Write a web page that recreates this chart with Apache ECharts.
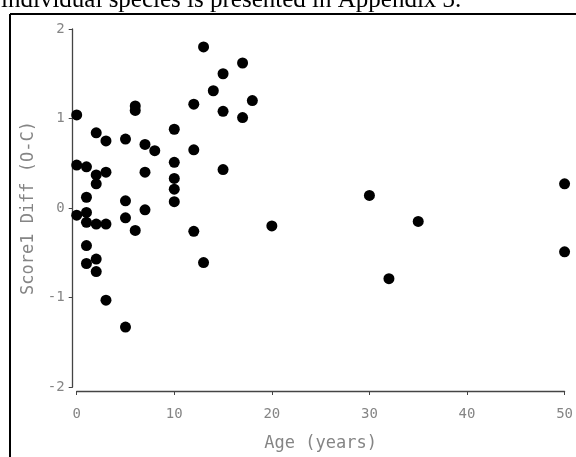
<!DOCTYPE html>
<html>
<head>
<meta charset="utf-8">
<script src="https://cdn.jsdelivr.net/npm/echarts@6/dist/echarts.min.js"></script>
<style>html,body{margin:0;padding:0;background:#fff}#c{width:576px;height:457px}</style>
</head>
<body>
<div id="c"></div>
<script>
var ages = [0,0,0, 1,1,1,1,1,1, 2,2,2,2,2,2, 3,3,3,3, 5,5,5,5, 6,6,6, 7,7,7, 8, 10,10,10,10,10, 12,12,12, 13,13, 14, 15,15,15, 17,17, 18, 20, 30, 32, 35, 50,50];
var scores = [1.04,0.48,-0.08, 0.46,0.12,-0.05,-0.16,-0.42,-0.62, 0.84,0.37,0.27,-0.18,-0.57,-0.71, 0.75,0.40,-0.18,-1.03, 0.77,0.08,-0.11,-1.33, 1.14,1.09,-0.25, 0.71,0.40,-0.02, 0.64, 0.88,0.51,0.33,0.21,0.07, 1.16,0.65,-0.26, 1.80,-0.61, 1.31, 1.50,1.08,0.43, 1.62,1.01, 1.20, -0.20, 0.14, -0.79, -0.15, 0.27,-0.49];
var xTitle = 'Age (years)';
var yTitle = 'Score1 Diff (O-C)';
var pageText = 'individual species is presented in Appendix 3.';

var points = ages.map(function (a, i) { return [a, scores[i]]; });
var mono = '"DejaVu Sans Mono", "Liberation Mono", monospace';
var labelGray = '#858585';

var chart = echarts.init(document.getElementById('c'), null, {renderer: 'canvas'});
chart.setOption({
  animation: false,
  backgroundColor: '#fff',
  grid: {left: 76.7, right: 5.3, top: 29, bottom: 68, containLabel: false},
  xAxis: {
    type: 'value', min: 0, max: 50, interval: 10, offset: 4,
    axisLine: {show: true, onZero: false, lineStyle: {color: '#444', width: 1.3}},
    axisTick: {show: true, length: 4, lineStyle: {color: '#444'}},
    splitLine: {show: false},
    axisLabel: {color: labelGray, fontFamily: mono, fontSize: 14, margin: 16},
    name: xTitle, nameLocation: 'middle', nameGap: 44,
    nameTextStyle: {color: labelGray, fontFamily: mono, fontSize: 17}
  },
  yAxis: {
    type: 'value', min: -2, max: 2, interval: 1, offset: 4,
    axisLine: {show: true, onZero: false, lineStyle: {color: '#444', width: 1.3}},
    axisTick: {show: true, length: 4, lineStyle: {color: '#444'}},
    splitLine: {show: false},
    axisLabel: {color: labelGray, fontFamily: mono, fontSize: 14, margin: 8},
    name: yTitle, nameLocation: 'middle', nameGap: 36,
    nameTextStyle: {color: labelGray, fontFamily: mono, fontSize: 17}
  },
  series: [{
    type: 'scatter', data: points, symbol: 'circle', symbolSize: 11,
    itemStyle: {color: '#000', opacity: 1}
  }],
  graphic: [
    {type: 'line', shape: {x1: 10, y1: 14, x2: 576, y2: 14}, style: {stroke: '#000', lineWidth: 2}},
    {type: 'line', shape: {x1: 10, y1: 14, x2: 10, y2: 457}, style: {stroke: '#000', lineWidth: 2}},
    {type: 'text', x: 1, y: 13, style: {text: pageText, fill: '#000', font: '25px "Liberation Serif", "Times New Roman", serif', verticalAlign: 'bottom', align: 'left'}}
  ]
});
</script>
</body>
</html>
